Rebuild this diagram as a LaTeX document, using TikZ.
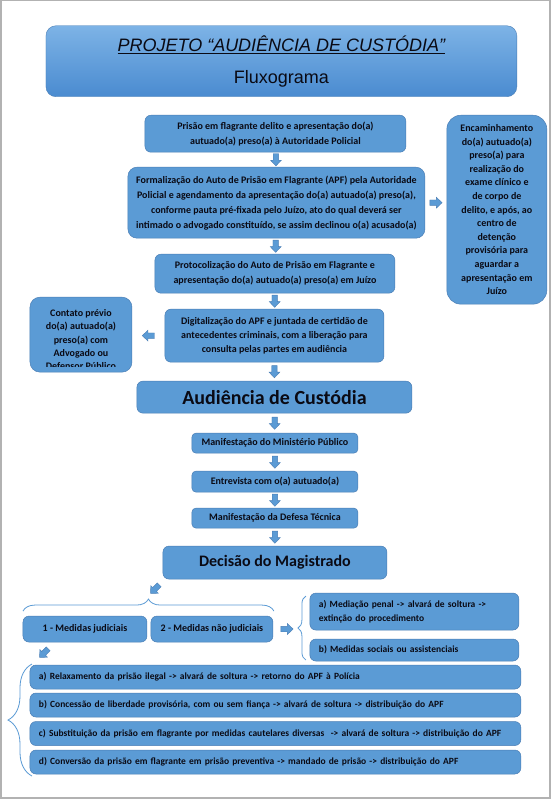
\documentclass[tikz,border=0pt]{standalone}
\usepackage{fontspec}
\setmainfont{Carlito}
\newfontfamily\arialfont{Liberation Sans}
\usetikzlibrary{decorations.pathreplacing,calc}
\definecolor{boxblue}{HTML}{5B9BD5}
\definecolor{boxline}{HTML}{4A7EB5}
\definecolor{toplight}{HTML}{7DB3E6}
\definecolor{topdark}{HTML}{4A8BD0}
\definecolor{ink}{HTML}{0A0A14}
\tikzset{
  box/.style={draw=boxline, fill=boxblue, rounded corners=6pt, align=center, text=ink,
    font=\bfseries\fontsize{10}{15}\selectfont, inner sep=2pt, line width=0.5pt},
  lowbox/.style={box, align=left, inner xsep=9pt, font=\bfseries\fontsize{9.5}{14}\selectfont},
  blkarrow/.pic={\filldraw[draw=boxline, fill=boxblue, line width=0.4pt]
    (-6,-2.7) -- (0.5,-2.7) -- (0.5,-5.4) -- (6.2,0) -- (0.5,5.4) -- (0.5,2.7) -- (-6,2.7) -- cycle;},
  brc/.style={draw=boxblue, line width=0.8pt, decorate, decoration={brace, amplitude=#1}},
}
\begin{document}
\begin{tikzpicture}[x=1pt,y=-1pt]
  \fill[white] (0,0) rectangle (553,800);
  \draw[gray!60, line width=1.5pt] (1,0.5) rectangle (550,798);

  \node[draw=boxline, rounded corners=10pt, top color=toplight, bottom color=topdark,
    minimum width=471pt, minimum height=71pt, align=center, text=ink,
    font=\arialfont\fontsize{18}{32}\selectfont] (titulo) at (281.5,61)
    {\underline{\itshape PROJETO “AUDIÊNCIA DE CUSTÓDIA”}\\Fluxograma};

  \node[box, minimum width=261pt, minimum height=37pt] (prisao) at (275.5,133.5)
    {Prisão em flagrante delito e apresentação do(a)\\autuado(a) preso(a) à Autoridade Policial};
  \node[box, minimum width=297pt, minimum height=71pt, rounded corners=9pt] (formal) at (276.5,202.5)
    {Formalização do Auto de Prisão em Flagrante (APF) pela Autoridade\\
     Policial e agendamento da apresentação do(a) autuado(a) preso(a),\\
     conforme pauta pré-fixada pelo Juízo, ato do qual deverá ser\\
     intimado o advogado constituído, se assim declinou o(a) acusado(a)};
  \node[box, minimum width=100pt, minimum height=189pt, rounded corners=14pt,
    font=\bfseries\fontsize{10}{13.6}\selectfont] (encam) at (497,209.5)
    {Encaminhamento\\do(a) autuado(a)\\preso(a) para\\realização do\\exame clínico e\\de corpo de\\
     delito, e após, ao\\centro de\\detenção\\provisória para\\aguardar a\\apresentação em\\Juízo};
  \node[box, minimum width=240pt, minimum height=39pt] (protoc) at (275,273.5)
    {Protocolização do Auto de Prisão em Flagrante e\\apresentação do(a) autuado(a) preso(a) em Juízo};
  \node[box, minimum width=219pt, minimum height=53pt, font=\bfseries\fontsize{10}{14}\selectfont] (digital) at (274.5,335.5)
    {Digitalização do APF e juntada de certidão de\\antecedentes criminais, com a liberação para\\
     consulta pelas partes em audiência};
  \node[box, minimum width=102pt, minimum height=75pt, rounded corners=10pt] (contato) at (81,334.5) {};
  \begin{scope}
    \clip (30,297) rectangle (132,366);
    \node[align=center, text=ink, font=\bfseries\fontsize{10}{13.2}\selectfont] (contatotxt) at (81,339.5)
      {Contato prévio\\do(a) autuado(a)\\preso(a) com\\Advogado ou\\Defensor Público};
  \end{scope}

  \node[box, minimum width=275pt, minimum height=32pt, font=\bfseries\fontsize{20}{24}\selectfont] (audiencia) at (274.5,397)
    {Audiência de Custódia};
  \node[box, minimum width=166pt, minimum height=20pt, rounded corners=4pt] (mp) at (275,443)
    {Manifestação do Ministério Público};
  \node[box, minimum width=166pt, minimum height=21pt, rounded corners=4pt] (entrev) at (275,481.5)
    {Entrevista com o(a) autuado(a)};
  \node[box, minimum width=166pt, minimum height=20pt, rounded corners=4pt] (defesa) at (275,518)
    {Manifestação da Defesa Técnica};
  \node[box, minimum width=224pt, minimum height=33pt, font=\bfseries\fontsize{16}{19}\selectfont] (decisao) at (275,562.5)
    {Decisão do Magistrado};

  \node[box, minimum width=124pt, minimum height=26pt] (judic) at (85,629) {1 - Medidas judiciais};
  \node[box, minimum width=122pt, minimum height=26pt] (naojud) at (212,629) {2 - Medidas não judiciais};
  \node[lowbox, text width=191pt, minimum height=37pt] (mediacao) at (414.5,611.5)
    {a) Mediação penal -> alvará de soltura ->\\extinção do procedimento};
  \node[lowbox, text width=191pt, minimum height=22pt] (sociais) at (414.5,650)
    {b) Medidas sociais ou assistenciais};

  \node[lowbox, text width=473pt, minimum height=24pt] (relax) at (275.5,677)
    {a) Relaxamento da prisão ilegal -> alvará de soltura -> retorno do APF à Polícia};
  \node[lowbox, text width=473pt, minimum height=24pt] (liberd) at (275.5,705)
    {b) Concessão de liberdade provisória, com ou sem fiança -> alvará de soltura -> distribuição do APF};
  \node[lowbox, text width=473pt, minimum height=24pt] (substit) at (275.5,733.5)
    {c) Substituição da prisão em flagrante por medidas cautelares diversas\ \ -> alvará de soltura -> distribuição do APF};
  \node[lowbox, text width=473pt, minimum height=24pt] (convers) at (275.5,762)
    {d) Conversão da prisão em flagrante em prisão preventiva -> mandado de prisão -> distribuição do APF};

  \pic[rotate=-90] at ($(prisao.south)!0.5!(formal.north)$) {blkarrow};
  \pic[rotate=-90] at ($(formal.south)!0.5!(protoc.north)$) {blkarrow};
  \pic[rotate=-90] at ($(protoc.south)!0.5!(digital.north)$) {blkarrow};
  \pic[rotate=-90] at ($(digital.south)!0.5!(audiencia.north)$) {blkarrow};
  \pic[rotate=-90] at ($(audiencia.south)!0.5!(mp.north)$) {blkarrow};
  \pic[rotate=-90] at ($(mp.south)!0.5!(entrev.north)$) {blkarrow};
  \pic[rotate=-90] at ($(entrev.south)!0.5!(defesa.north)$) {blkarrow};
  \pic[rotate=-90] at ($(defesa.south)!0.5!(decisao.north)$) {blkarrow};
  \pic at ($(formal.east)!0.5!(formal.east-|encam.west)$) {blkarrow};
  \pic[rotate=180] at ($(digital.west)!0.5!(digital.west-|contato.east)$) {blkarrow};
  \pic[rotate=-135] at (155,589) {blkarrow};
  \pic at (287,629) {blkarrow};
  \pic[rotate=-135] at (44,653) {blkarrow};

  \draw[brc=12pt] (23,611) -- (274,611);
  \draw[brc=8pt] (306,660) -- (306,596);
  \draw[brc=24pt] (32,776) -- (32,664);
\end{tikzpicture}
\end{document}
